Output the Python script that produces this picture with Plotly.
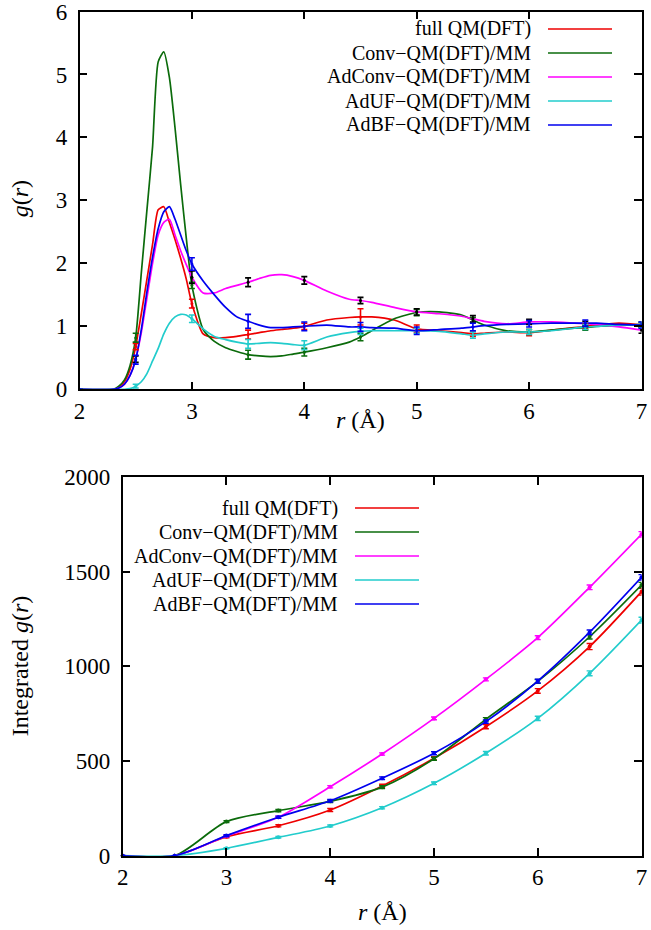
import plotly.graph_objects as go

FONT = "Liberation Serif"

# ---- top panel: g(r) ----
R_TOP = [2.0, 2.3, 2.35, 2.4, 2.45, 2.5, 2.55, 2.6, 2.65, 2.7, 2.75, 2.8, 2.85, 2.9, 2.95,
         3.0, 3.1, 3.2, 3.3, 3.4, 3.5, 3.6, 3.7, 3.8, 3.9, 4.0, 4.2, 4.4, 4.5, 4.6, 4.8,
         5.0, 5.2, 5.4, 5.5, 5.6, 5.8, 6.0, 6.2, 6.4, 6.5, 6.6, 6.8, 7.0]

g_full = [0, 0, 0.03, 0.12, 0.32, 0.68, 1.2, 1.75, 2.3, 2.85, 2.9, 2.65, 2.38, 2.08, 1.75,
          1.36, 0.88, 0.82, 0.82, 0.84, 0.87, 0.9, 0.93, 0.95, 0.97, 1.0, 1.1, 1.14, 1.15, 1.15, 1.1,
          0.96, 0.93, 0.9, 0.88, 0.89, 0.91, 0.9, 0.94, 0.98, 1.0, 1.02, 1.05, 1.02]
g_conv = [0, 0, 0.05, 0.15, 0.38, 0.82, 1.85, 2.85, 3.85, 5.2, 5.36, 4.95, 4.15, 3.25, 2.4,
          1.65, 0.95, 0.76, 0.66, 0.6, 0.55, 0.53, 0.52, 0.53, 0.56, 0.59, 0.66, 0.75, 0.83, 0.93, 1.12,
          1.22, 1.23, 1.18, 1.1, 1.02, 0.93, 0.91, 0.94, 0.97, 0.98, 1.0, 1.01, 1.03]
g_adconv = [0, 0, 0.02, 0.08, 0.22, 0.48, 0.9, 1.45, 2.0, 2.45, 2.65, 2.7, 2.45, 2.2, 1.98,
            1.78, 1.53, 1.53, 1.6, 1.65, 1.7, 1.76, 1.81, 1.82, 1.79, 1.73, 1.56, 1.43, 1.41, 1.38, 1.3,
            1.23, 1.2, 1.16, 1.12, 1.08, 1.04, 1.07, 1.07, 1.05, 1.04, 1.03, 0.99, 0.94]
g_aduf = [0, 0, 0, 0, 0.01, 0.05, 0.12, 0.25, 0.45, 0.65, 0.88, 1.05, 1.15, 1.19, 1.18,
          1.12, 0.96, 0.84, 0.79, 0.75, 0.72, 0.73, 0.74, 0.73, 0.71, 0.7, 0.83, 0.9, 0.92, 0.93, 0.93,
          0.93, 0.92, 0.88, 0.86, 0.88, 0.91, 0.91, 0.93, 0.97, 0.99, 1.0, 1.02, 1.02]
g_adbf = [0, 0, 0.02, 0.08, 0.22, 0.47, 0.95, 1.55, 2.1, 2.55, 2.82, 2.9, 2.7, 2.45, 2.2,
          1.99, 1.72, 1.5, 1.3, 1.15, 1.08, 1.02, 0.98, 0.98, 0.99, 1.0, 1.02, 0.99, 0.99, 0.98, 0.97,
          0.93, 0.95, 0.97, 0.99, 1.01, 1.03, 1.04, 1.05, 1.05, 1.05, 1.05, 1.03, 1.02]

R_ERR = [2.0, 2.5, 3.0, 3.5, 4.0, 4.5, 5.0, 5.5, 6.0, 6.5, 7.0]
err_full = [0, 0.05, 0.07, 0.07, 0.05, 0.13, 0.06, 0.04, 0.05, 0.04, 0.04]
err_conv = [0, 0.07, 0.05, 0.07, 0.06, 0.06, 0.05, 0.04, 0.04, 0.04, 0.04]
err_adconv = [0, 0.05, 0.1, 0.07, 0.06, 0.05, 0.05, 0.05, 0.04, 0.04, 0.05]
err_aduf = [0, 0.03, 0.06, 0.07, 0.07, 0.05, 0.04, 0.05, 0.04, 0.04, 0.04]
err_adbf = [0, 0.07, 0.1, 0.11, 0.07, 0.07, 0.06, 0.06, 0.05, 0.05, 0.05]

# ---- bottom panel: integrated g(r) ----
R_INT = [2.0, 2.5, 3.0, 3.5, 4.0, 4.5, 5.0, 5.5, 6.0, 6.5, 7.0]
int_full = [0, 0, 100, 158, 241, 368, 514, 681, 870, 1104, 1394]
int_conv = [0, 0, 180, 238, 287, 362, 512, 720, 920, 1156, 1429]
int_adconv = [0, 0, 104, 203, 364, 537, 725, 931, 1151, 1417, 1697]
int_aduf = [0, 0, 39, 97, 157, 253, 382, 541, 725, 963, 1244]
int_adbf = [0, 0, 106, 203, 290, 409, 541, 708, 922, 1180, 1470]
interr_full = [0, 0, 5, 6, 8, 9, 9, 11, 12, 16, 18]
interr_conv = [0, 0, 5, 6, 6, 7, 8, 9, 10, 12, 14]
interr_adconv = [0, 0, 4, 5, 6, 6, 7, 8, 10, 12, 14]
interr_aduf = [0, 0, 3, 4, 5, 6, 7, 9, 11, 13, 15]
interr_adbf = [0, 0, 5, 6, 7, 7, 8, 9, 10, 12, 14]

NAMES = ["full QM(DFT)", "Conv\u2212QM(DFT)/MM", "AdConv\u2212QM(DFT)/MM",
         "AdUF\u2212QM(DFT)/MM", "AdBF\u2212QM(DFT)/MM"]
COLORS = ["#ee0000", "#0b6b0b", "#ff00ff", "#22cccc", "#0000ee"]
ERR_COLORS = ["#ee0000", "#0b6b0b", "#000000", "#22cccc", "#0000ee"]

top = [(g_full, err_full), (g_conv, err_conv), (g_adconv, err_adconv),
       (g_aduf, err_aduf), (g_adbf, err_adbf)]
bottom = [(int_full, interr_full), (int_conv, interr_conv), (int_adconv, interr_adconv),
          (int_aduf, interr_aduf), (int_adbf, interr_adbf)]

fig = go.Figure()

for i, (g, err) in enumerate(top):
    fig.add_trace(go.Scatter(x=R_TOP, y=g, mode="lines", xaxis="x", yaxis="y",
                             line=dict(color=COLORS[i], width=1.7, shape="spline", smoothing=0.6),
                             showlegend=False, hoverinfo="skip"))
for i, (g, err) in enumerate(top):
    ey = [g[R_TOP.index(r)] for r in R_ERR]
    fig.add_trace(go.Scatter(x=R_ERR, y=ey, mode="markers", xaxis="x", yaxis="y",
                             marker=dict(size=3, color=ERR_COLORS[i]),
                             error_y=dict(type="data", array=err, color=ERR_COLORS[i],
                                          thickness=1.6, width=3),
                             cliponaxis=False, showlegend=False))

for i, (v, err) in enumerate(bottom):
    fig.add_trace(go.Scatter(x=R_INT, y=v, mode="lines+markers", xaxis="x2", yaxis="y2",
                             line=dict(color=COLORS[i], width=1.7, shape="spline", smoothing=0.8),
                             marker=dict(size=4, color=COLORS[i]),
                             error_y=dict(type="data", array=err, color=COLORS[i],
                                          thickness=1.4, width=3),
                             cliponaxis=False, showlegend=False))

axis_style = dict(showline=True, linecolor="black", linewidth=1.5, mirror="ticks",
                  ticks="inside", ticklen=8, tickwidth=1.5, tickcolor="black",
                  showgrid=False, zeroline=False, automargin=False,
                  ticklabeloverflow="allow",
                  tickfont=dict(family=FONT, size=23, color="black"))

W, H = 651, 930
top_y = [1 - 389.3 / H, 1 - 11.5 / H]
bot_y = [1 - 855.7 / H, 1 - 476.9 / H]

fig.update_layout(
    width=W, height=H,
    margin=dict(l=0, r=0, t=0, b=0, pad=0),
    paper_bgcolor="white", plot_bgcolor="white",
    xaxis=dict(axis_style, domain=[79.5 / W, 641.5 / W], range=[2, 7], dtick=1, anchor="y"),
    yaxis=dict(axis_style, domain=top_y, range=[0, 6], dtick=1, anchor="x",
               ticklabelstandoff=6),
    xaxis2=dict(axis_style, domain=[122.7 / W, 641.5 / W], range=[2, 7], dtick=1, anchor="y2"),
    yaxis2=dict(axis_style, domain=bot_y, range=[0, 2000], dtick=500, anchor="x2",
                ticklabelstandoff=6),
)

title_font = dict(family=FONT, size=24, color="black")
titles = [("<i>g</i>(<i>r</i>)", 20, (389.3 + 9.3) / 2, -90),
          ("Integrated <i>g</i>(<i>r</i>)", 20, (855.7 + 476.9) / 2, -90),
          ("<i>r</i> (Å)", 360.5, 420, 0),
          ("<i>r</i> (Å)", 382, 912, 0)]
for text, px, py, ang in titles:
    fig.add_annotation(text=text, x=px / W, y=1 - py / H, xref="paper", yref="paper",
                       xanchor="center", yanchor="middle", textangle=ang,
                       showarrow=False, font=title_font)

# hand-made legends: text right-aligned, line sample on the right
legend_font = dict(family=FONT, size=20, color="black")
for (text_x, l0, l1, row0) in [(533, 548, 612, 29), (340, 355, 419, 508)]:
    for i, name in enumerate(NAMES):
        yy = 1 - (row0 + 24 * i) / H
        fig.add_annotation(text=name, x=text_x / W, y=yy, xref="paper", yref="paper",
                           xanchor="right", yanchor="middle", showarrow=False, font=legend_font)
        fig.add_shape(type="line", xref="paper", yref="paper", x0=l0 / W, x1=l1 / W,
                      y0=yy, y1=yy, line=dict(color=COLORS[i], width=1.7))

fig.write_html("out.html", config={"displayModeBar": False},
               post_script="document.body.style.margin='0';")
